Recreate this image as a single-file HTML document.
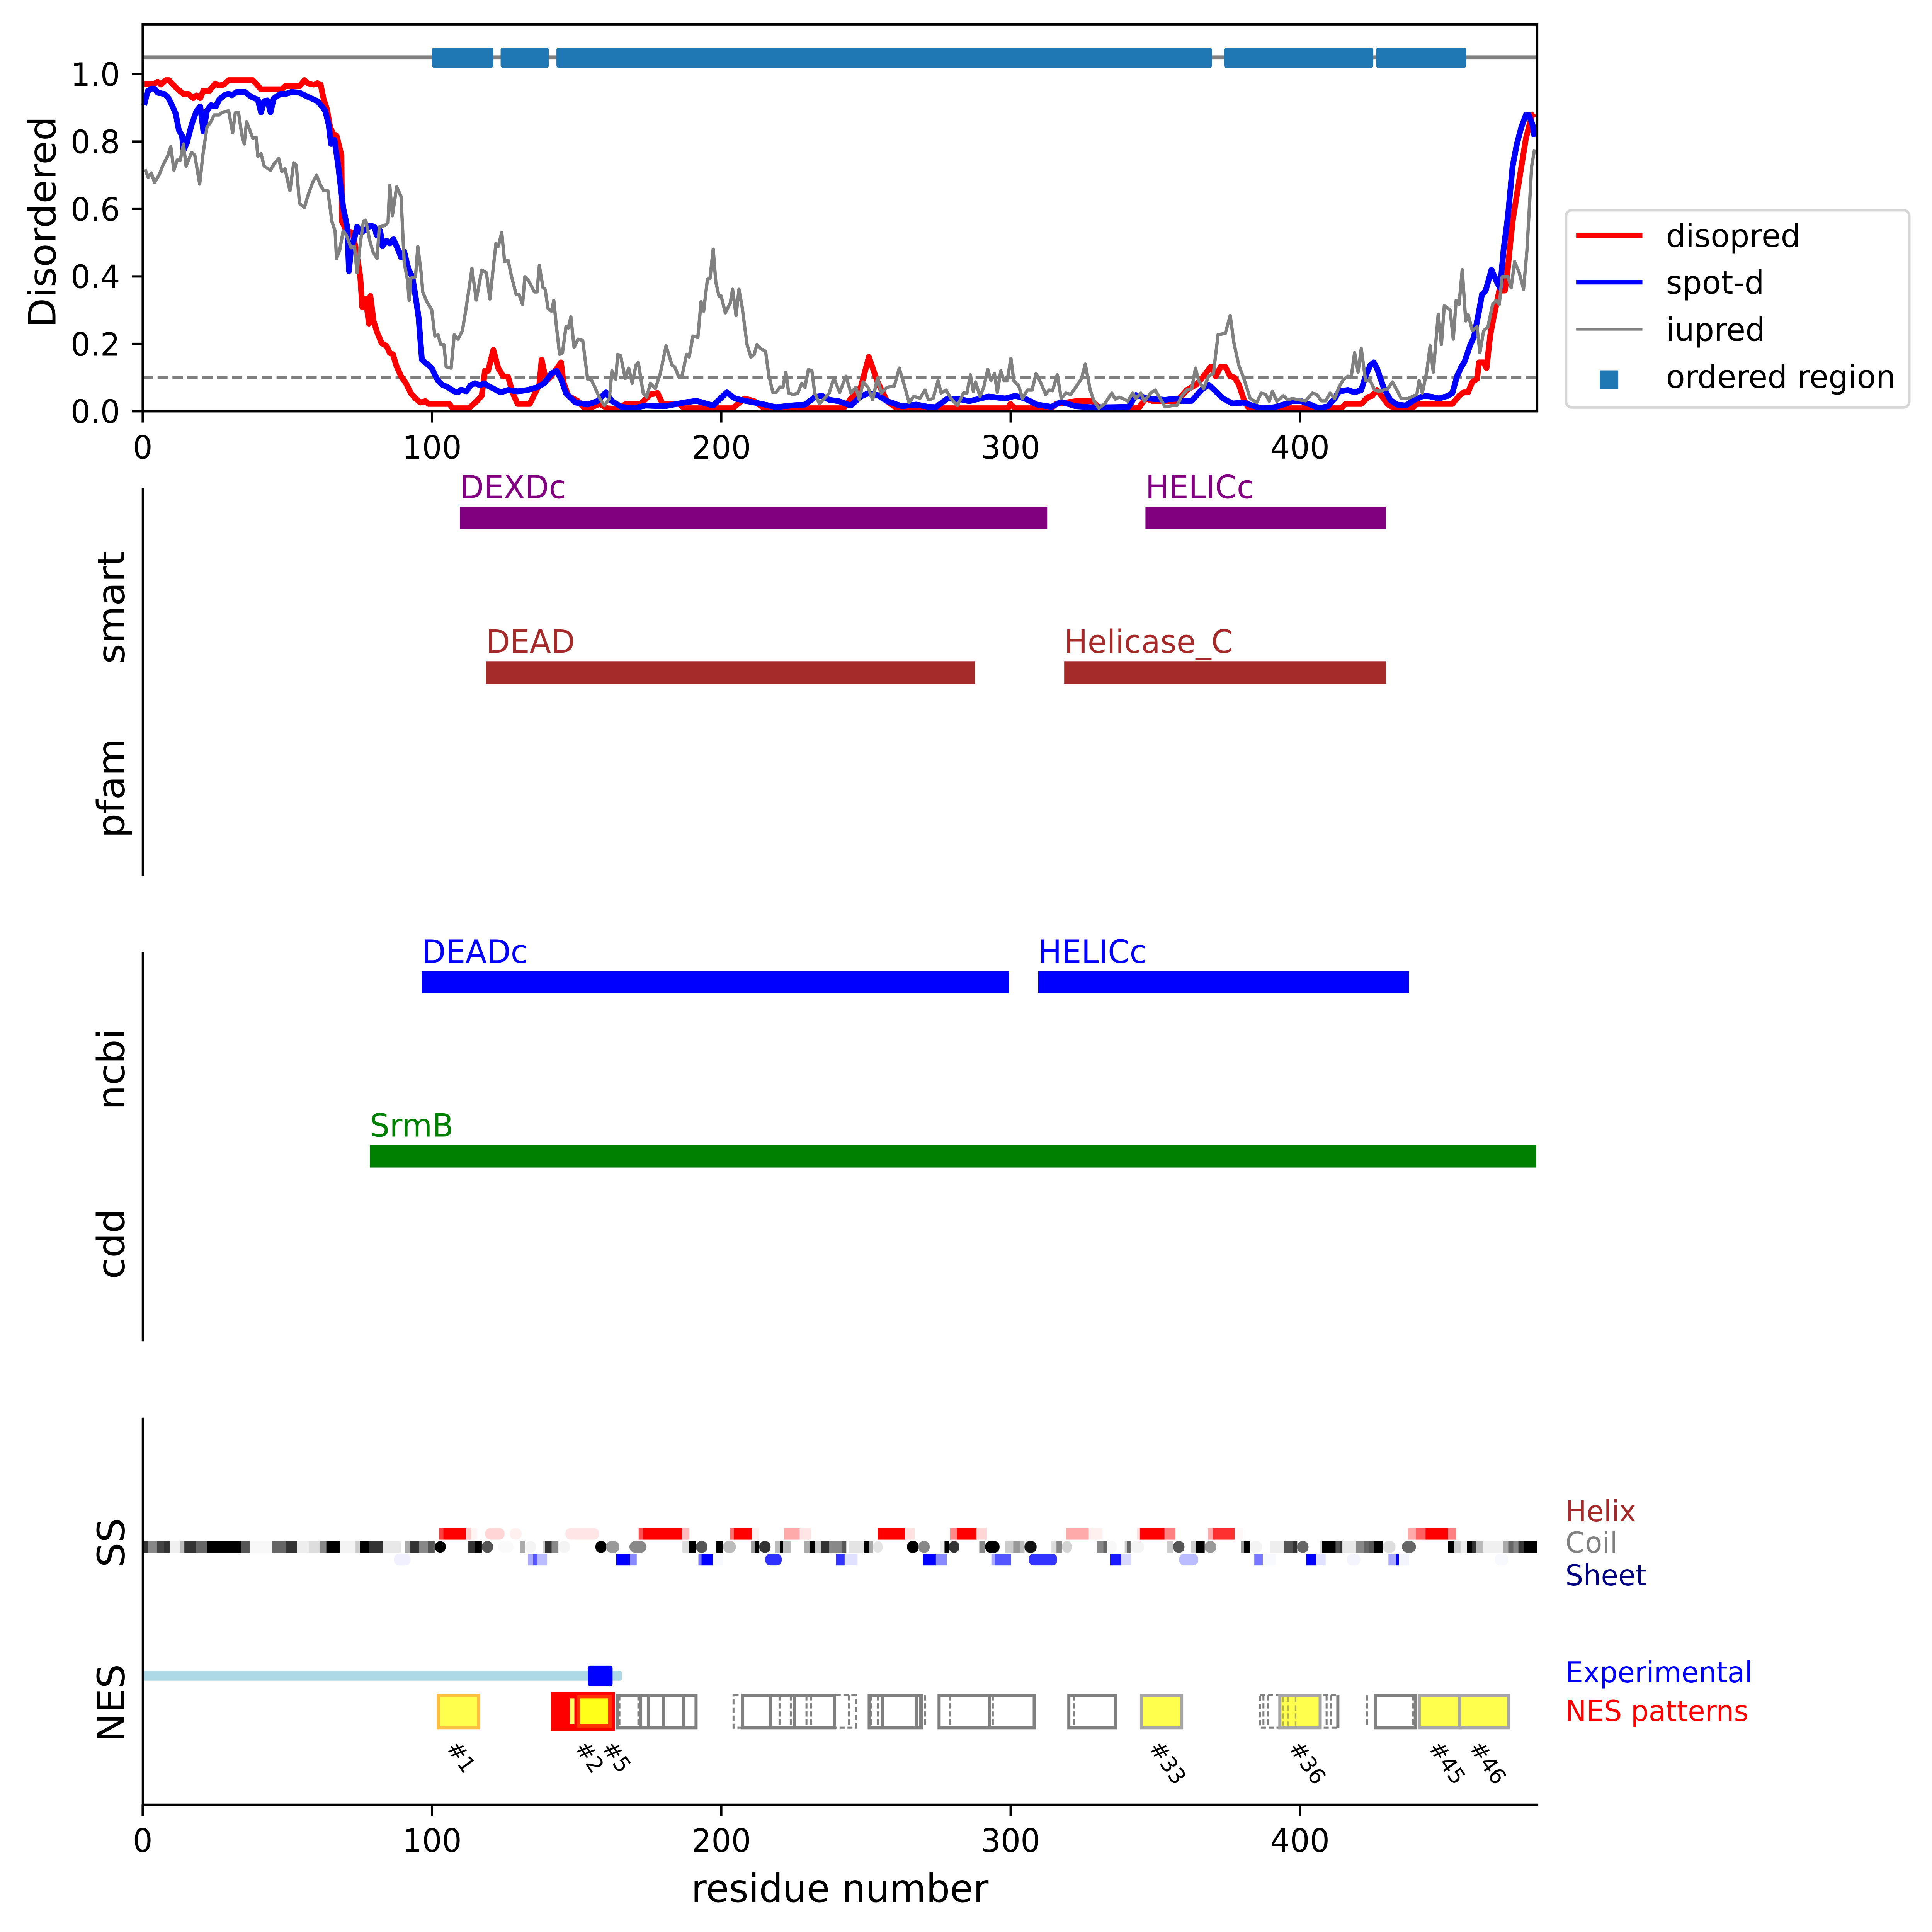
<!DOCTYPE html>
<html><head><meta charset="utf-8"><style>
html,body{margin:0;padding:0;background:#fff;width:100%;height:100%;overflow:hidden;}
svg{display:block;width:100vw;height:100vh;}
text{font-family:"DejaVu Sans","Liberation Sans",sans-serif;}
</style></head><body>
<svg xmlns="http://www.w3.org/2000/svg" viewBox="0 0 6885 6682" preserveAspectRatio="none">
<rect x="0" y="0" width="6885" height="6682" fill="#fff"/>

<!-- ============ PANEL 1 ============ -->
<line x1="508.5" y1="198.1" x2="5478" y2="198.1" stroke="#808080" stroke-width="13"/>
<g fill="#1f77b4">
<rect x="1539.5" y="164.5" width="218.5" height="70" rx="8"/>
<rect x="1784" y="164.5" width="172" height="70" rx="8"/>
<rect x="1983" y="164.5" width="2336" height="70" rx="8"/>
<rect x="4362" y="164.5" width="532" height="70" rx="8"/>
<rect x="4904" y="164.5" width="321" height="70" rx="8"/>
</g>
<line x1="508.5" y1="1305.9" x2="5478" y2="1305.9" stroke="#808080" stroke-width="10" stroke-dasharray="37 16"/>

<g transform="translate(508.5 1422.5) scale(10.31 -1166.1)" fill="none" stroke-linejoin="round">
<polyline vector-effect="non-scaling-stroke" stroke="#ff0000" stroke-width="15" points="0.5,0.971 3.9,0.971 5.2,0.977 6.3,0.969 8,0.982 9.1,0.982 11.4,0.961 13,0.949 14.1,0.941 15.8,0.941 17.5,0.929 18.6,0.937 19.9,0.929 21,0.951 23.1,0.951 25.1,0.972 26.4,0.966 28.1,0.969 29.7,0.982 38.1,0.982 40.9,0.955 48.1,0.955 49.2,0.964 54.2,0.964 55.9,0.982 57,0.973 59.2,0.969 60.4,0.973 61.5,0.969 62.6,0.924 63.7,0.896 64.8,0.842 65.9,0.822 67,0.818 68.7,0.760 68.9,0.563 70.4,0.535 72.6,0.530 74.3,0.449 75.2,0.399 75.9,0.309 77.1,0.334 78.2,0.260 78.7,0.342 79.8,0.268 81,0.235 82.6,0.202 84.3,0.194 85.4,0.173 86.5,0.169 87.6,0.137 89.3,0.104 91,0.083 92.7,0.054 94.3,0.038 96,0.026 97.7,0.030 98.8,0.022 106,0.022 107.1,0.009 112.7,0.009 115.5,0.030 117.2,0.046 118.3,0.120 119.4,0.120 121.2,0.182 122.9,0.128 124.6,0.104 126.3,0.102 127.9,0.054 129.6,0.022 133.8,0.022 135.4,0.050 137.1,0.079 137.9,0.153 139.1,0.104 140.4,0.096 142.9,0.124 144.6,0.145 145.4,0.087 147.1,0.046 150.5,0.030 153,0.007 155.5,0.013 158,0.022 160.5,0.009 163.8,0.007 167.2,0.022 172.2,0.022 175.5,0.050 178,0.054 179.7,0.022 185.5,0.022 187.2,0.009 203.9,0.009 208.1,0.038 211.4,0.030 214.8,0.009 242.3,0.009 244.8,0.038 248.2,0.071 251,0.161 254,0.087 257.3,0.030 260.7,0.009 299.1,0.009 299.9,0.022 301.6,0.009 314.1,0.009 315.8,0.022 322.5,0.030 328.3,0.030 330.8,0.009 344.2,0.009 346.7,0.038 349.2,0.030 357.5,0.030 360.9,0.063 364.2,0.079 366.7,0.104 369.2,0.132 370.9,0.104 372.6,0.132 374.2,0.132 375.9,0.104 377.4,0.100 378.9,0.079 380.5,0.038 382,0.013 383.5,0.009 414.3,0.009 415.8,0.022 421.2,0.022 423.5,0.042 425,0.046 426.6,0.063 428.9,0.038 430.4,0.020 432.7,0.009 438.9,0.009 440.4,0.022 452.7,0.022 455,0.046 456.6,0.056 458.1,0.056 459.6,0.087 461.2,0.096 461.9,0.145 463.5,0.145 464.5,0.128 465.8,0.227 467.3,0.293 468.9,0.358 470.8,0.358 471.5,0.395 473.5,0.563 475.8,0.686 478.1,0.809 480.1,0.875 481.1,0.883"/>
<polyline vector-effect="non-scaling-stroke" stroke="#0000ff" stroke-width="15" points="0.5,0.908 1.7,0.949 3,0.957 4.1,0.957 5.2,0.945 7.5,0.941 8.6,0.933 9.7,0.916 11.4,0.883 12.5,0.834 13.6,0.818 14.1,0.773 15.3,0.797 16.9,0.850 18.6,0.891 19.9,0.904 21,0.830 22.2,0.891 23.6,0.908 25.3,0.904 26.4,0.924 28.1,0.937 29.7,0.942 30.8,0.937 32.5,0.947 35.3,0.947 37.5,0.933 39.8,0.924 40.9,0.887 42,0.920 43.1,0.922 44.2,0.887 45.3,0.928 47.6,0.941 49.8,0.942 51.4,0.947 54.2,0.945 57,0.933 60.4,0.920 62,0.904 63.1,0.891 64.3,0.850 65.1,0.793 66.3,0.805 67.6,0.727 69.3,0.604 70.7,0.547 71.3,0.416 72,0.481 73.2,0.514 74.1,0.547 75.4,0.530 77.1,0.539 78.7,0.551 80.1,0.547 80.9,0.522 82.1,0.535 82.9,0.490 84.3,0.506 85.4,0.498 86.7,0.510 88.2,0.481 89.3,0.457 90.4,0.473 91.9,0.420 93.2,0.399 94.3,0.342 95.4,0.276 96.5,0.153 98.2,0.141 99.9,0.128 101,0.108 102.1,0.091 103.5,0.079 105.5,0.071 107.7,0.059 109,0.056 110.1,0.064 111.9,0.059 113.3,0.077 114.9,0.083 116.6,0.077 118.1,0.083 119.4,0.075 120.4,0.071 123.7,0.056 126.3,0.063 129.6,0.059 133,0.063 136.3,0.071 138.8,0.083 141.3,0.112 143,0.120 144.6,0.096 146.3,0.054 149.6,0.026 153.8,0.020 157.1,0.030 160.1,0.056 162.2,0.030 165.5,0.013 169.7,0.009 173.8,0.017 180.5,0.015 187.2,0.026 191.4,0.031 197.2,0.017 199.7,0.038 201.9,0.056 204.7,0.038 208.9,0.030 213.9,0.022 218.9,0.012 224,0.017 229,0.020 232.3,0.042 234.8,0.046 237.3,0.034 240.6,0.030 244.8,0.017 248.2,0.044 250.7,0.053 254,0.048 257.3,0.030 262.4,0.015 267.4,0.020 271.6,0.013 274.1,0.012 278.2,0.038 282.4,0.036 285.7,0.030 292.4,0.044 298.2,0.038 301.6,0.046 304.9,0.038 309.1,0.020 314.1,0.013 317.5,0.028 322.5,0.015 327.5,0.012 334.2,0.012 340.8,0.013 343.3,0.048 347.5,0.038 353.4,0.034 357.5,0.038 359.2,0.030 362.6,0.031 365.9,0.063 368.4,0.079 370.9,0.059 373.4,0.038 376.7,0.023 380.5,0.026 383.5,0.017 386.6,0.009 391.2,0.012 395.1,0.022 397.4,0.031 400.5,0.030 403.5,0.020 406.6,0.009 409.7,0.015 412,0.038 413.5,0.059 416.6,0.063 418.9,0.056 421.2,0.063 422.7,0.104 424.3,0.136 425.5,0.145 426.6,0.128 428.9,0.071 431.2,0.034 433.5,0.020 436.6,0.017 439.6,0.034 442.7,0.046 445,0.044 448.1,0.038 451.2,0.046 452.7,0.054 454.3,0.104 455.8,0.132 457,0.149 458.9,0.198 460.1,0.219 461.9,0.297 462.9,0.346 464.2,0.358 466.2,0.420 468.1,0.383 469.2,0.366 470.4,0.481 471.9,0.579 473.5,0.727 475,0.793 476.5,0.842 478.1,0.879 479.1,0.879 480.4,0.850 481.1,0.814"/>
<polyline vector-effect="non-scaling-stroke" stroke="#808080" stroke-width="8.5" points="0.8,0.718 1.9,0.694 3,0.707 4.1,0.678 5.8,0.703 6.9,0.728 8.6,0.756 9.7,0.785 10.8,0.715 11.9,0.745 13,0.745 14.1,0.793 15,0.727 16.9,0.768 18,0.760 19.7,0.674 20.8,0.760 22.2,0.842 23.6,0.859 24.7,0.879 26.4,0.879 27.5,0.887 29.7,0.891 31.1,0.826 32,0.885 33.1,0.887 34.3,0.818 35.1,0.793 35.9,0.859 37,0.834 38.1,0.809 39.2,0.813 39.8,0.756 40.9,0.764 42,0.727 44.2,0.715 45.3,0.732 47,0.750 48.1,0.711 49.2,0.719 50.9,0.654 52.2,0.737 53.1,0.729 54.2,0.617 55.9,0.604 57,0.637 58.7,0.678 60.1,0.700 61.5,0.670 62.6,0.654 64,0.654 65.4,0.563 66.5,0.535 67,0.453 68.1,0.478 69.3,0.535 70.4,0.522 72,0.485 73.2,0.489 74.1,0.411 75.2,0.498 76.3,0.563 77.1,0.567 78.5,0.506 79.6,0.473 81,0.453 81.8,0.547 83.7,0.551 84.8,0.559 85.4,0.670 86.3,0.580 87.8,0.666 89.3,0.637 90.4,0.440 91.5,0.391 92.1,0.329 92.7,0.395 94.3,0.399 95.1,0.489 96.3,0.407 96.8,0.354 98.2,0.325 99.9,0.301 101,0.223 102.1,0.227 103,0.198 104.1,0.198 104.9,0.132 106.6,0.128 107.7,0.227 109,0.214 110.5,0.239 111.6,0.296 112.7,0.358 113.8,0.424 115.3,0.330 117.2,0.419 118.8,0.411 120,0.333 122.1,0.498 122.9,0.489 124.1,0.530 125.1,0.444 126.3,0.448 127.4,0.403 129.1,0.346 130.1,0.346 131.3,0.317 132.1,0.399 133.4,0.387 135.4,0.354 136.3,0.354 137.1,0.432 138.4,0.366 139.1,0.362 140.1,0.305 141.3,0.297 142.1,0.329 142.9,0.260 144.1,0.169 145.1,0.173 146.3,0.251 147.1,0.247 148,0.280 149.1,0.190 150.5,0.214 152.1,0.210 153.8,0.095 155,0.095 156.3,0.071 158,0.038 159.6,0.017 161.3,0.038 162.2,0.120 163.5,0.095 164.2,0.169 165.2,0.165 166.8,0.097 168,0.128 169.2,0.083 170.5,0.136 171.3,0.145 173,0.054 174.2,0.042 175.5,0.083 177.2,0.067 178.9,0.112 180.9,0.194 183,0.136 183.9,0.132 185.2,0.104 186.4,0.104 188,0.169 188.9,0.161 190.2,0.223 191.9,0.219 193,0.325 193.9,0.297 195.2,0.391 196.1,0.395 197.2,0.481 198.1,0.383 199.2,0.342 199.9,0.343 201.4,0.292 203.1,0.321 203.9,0.362 205.1,0.284 206.1,0.362 207.2,0.309 208.9,0.198 210.2,0.161 211.4,0.169 212.3,0.198 213.6,0.186 215.3,0.178 216.4,0.108 217.8,0.056 218.9,0.056 220.3,0.072 221.3,0.071 222.3,0.116 223.3,0.054 224.8,0.050 226.4,0.053 227.8,0.083 228.9,0.071 230.1,0.124 231.3,0.120 232.3,0.054 233.9,0.022 235.6,0.038 237.3,0.054 238.9,0.099 240.9,0.056 243.1,0.104 244.8,0.054 246.5,0.071 247.7,0.034 249,0.087 250.7,0.071 252.3,0.034 254,0.099 255.3,0.054 257.3,0.071 259.8,0.075 261.5,0.128 263.2,0.079 264.9,0.026 266.5,0.044 268.7,0.039 270.4,0.063 271.6,0.034 273.2,0.038 274.9,0.091 276,0.054 277.7,0.063 279.4,0.038 281.6,0.017 283.7,0.054 284.9,0.054 286.1,0.108 287.1,0.059 287.9,0.087 289.4,0.044 290.7,0.071 292.1,0.124 293.2,0.091 294.4,0.112 295.4,0.056 296.6,0.120 297.7,0.091 298.8,0.091 300.1,0.157 301.1,0.091 302.8,0.075 304.1,0.038 305.8,0.063 307.4,0.063 308.8,0.112 310.5,0.083 312.1,0.050 313.3,0.063 314.5,0.061 316.1,0.108 317.5,0.038 319.1,0.054 320.8,0.050 322.8,0.075 324.5,0.097 325.8,0.140 327.5,0.063 328.8,0.031 330.5,0.009 332.5,0.022 335,0.054 336.2,0.036 337.5,0.042 338.8,0.038 340.5,0.030 342.2,0.054 343.3,0.038 345,0.054 346.2,0.030 348.4,0.054 350,0.063 351.7,0.038 353.4,0.013 355.9,0.017 357.5,0.017 359.2,0.046 360.9,0.063 362.6,0.067 363.9,0.128 365,0.091 366.7,0.067 368.4,0.104 370.1,0.112 371.7,0.227 374.2,0.231 375.9,0.284 377.2,0.202 378.9,0.136 380.5,0.100 382.8,0.038 385.1,0.026 386.6,0.054 388.2,0.050 389.4,0.030 390.5,0.059 392,0.030 394.3,0.046 395.8,0.034 397.4,0.038 399.7,0.034 402,0.031 404.3,0.054 405.8,0.050 407.4,0.031 408.9,0.031 410.4,0.054 412,0.038 413.5,0.071 415.1,0.095 416.6,0.104 417.7,0.100 418.9,0.174 420.1,0.116 421.2,0.186 422.7,0.091 424.3,0.091 425.8,0.063 427.4,0.059 428.9,0.063 430.4,0.067 432,0.087 433.5,0.063 435,0.038 437.4,0.038 440.4,0.050 441.2,0.091 442.3,0.054 443.8,0.116 445,0.194 446.1,0.116 447.8,0.288 448.9,0.198 449.9,0.313 451.9,0.301 453,0.214 454,0.329 455,0.317 456.1,0.420 457.3,0.268 458.1,0.288 459.6,0.239 461.2,0.251 462.2,0.174 463.5,0.239 465,0.251 466.6,0.317 467.8,0.329 468.9,0.317 469.9,0.399 471.9,0.399 473,0.366 474.2,0.444 475.8,0.411 477.3,0.362 478.5,0.481 480.1,0.727 481.1,0.777"/>
</g>

<!-- axes box -->
<rect x="508.5" y="84" width="4969.5" height="1338.5" fill="none" stroke="#000" stroke-width="8"/>
<g stroke="#000" stroke-width="8">
<line x1="469.6" y1="1422.5" x2="508.5" y2="1422.5"/>
<line x1="469.6" y1="1189.3" x2="508.5" y2="1189.3"/>
<line x1="469.6" y1="956.1" x2="508.5" y2="956.1"/>
<line x1="469.6" y1="722.8" x2="508.5" y2="722.8"/>
<line x1="469.6" y1="489.6" x2="508.5" y2="489.6"/>
<line x1="469.6" y1="256.4" x2="508.5" y2="256.4"/>
<line x1="508.5" y1="1422.5" x2="508.5" y2="1461.4"/>
<line x1="1539.5" y1="1422.5" x2="1539.5" y2="1461.4"/>
<line x1="2570.5" y1="1422.5" x2="2570.5" y2="1461.4"/>
<line x1="3601.5" y1="1422.5" x2="3601.5" y2="1461.4"/>
<line x1="4632.5" y1="1422.5" x2="4632.5" y2="1461.4"/>
</g>
<g font-size="111" fill="#000" text-anchor="end">
<text x="428" y="1463">0.0</text>
<text x="428" y="1230">0.2</text>
<text x="428" y="996">0.4</text>
<text x="428" y="763">0.6</text>
<text x="428" y="530">0.8</text>
<text x="428" y="297">1.0</text>
</g>
<g font-size="111" fill="#000" text-anchor="middle">
<text x="508.5" y="1586">0</text>
<text x="1539.5" y="1586">100</text>
<text x="2570.5" y="1586">200</text>
<text x="3601.5" y="1586">300</text>
<text x="4632.5" y="1586">400</text>
</g>
<text transform="translate(197.5 768) rotate(-90)" font-size="134" text-anchor="middle">Disordered</text>

<!-- legend -->
<rect x="5581" y="727" width="1223" height="682" rx="20" fill="#fff" stroke="#d6d6d6" stroke-width="9"/>
<line x1="5617" y1="814" x2="5853" y2="814" stroke="#ff0000" stroke-width="16"/>
<line x1="5617" y1="976" x2="5853" y2="976" stroke="#0000ff" stroke-width="16"/>
<line x1="5617" y1="1139" x2="5853" y2="1139" stroke="#808080" stroke-width="9"/>
<rect x="5701" y="1281" width="66" height="66" fill="#1f77b4"/>
<g font-size="111" fill="#000">
<text x="5937" y="854">disopred</text>
<text x="5937" y="1016">spot-d</text>
<text x="5937" y="1179">iupred</text>
<text x="5937" y="1342">ordered region</text>
</g>

<!-- ============ PANEL 2 ============ -->
<line x1="509" y1="1688" x2="509" y2="3031" stroke="#000" stroke-width="8"/>
<rect x="1639" y="1752" width="2093" height="76.6" fill="#800080"/>
<rect x="4082" y="1752" width="857" height="76.6" fill="#800080"/>
<rect x="1732" y="2287" width="1743" height="77.5" fill="#a52a2a"/>
<rect x="3792.5" y="2287" width="1146.5" height="77.5" fill="#a52a2a"/>
<g font-size="111">
<text x="1639" y="1723.5" fill="#800080">DEXDc</text>
<text x="4082" y="1723.5" fill="#800080">HELICc</text>
<text x="1732" y="2258" fill="#a52a2a">DEAD</text>
<text x="3792.5" y="2258" fill="#a52a2a">Helicase_C</text>
</g>
<g font-size="134" text-anchor="middle">
<text transform="translate(443 2101) rotate(-90)">smart</text>
<text transform="translate(443 2726) rotate(-90)">pfam</text>
</g>

<!-- ============ PANEL 3 ============ -->
<line x1="509" y1="3292" x2="509" y2="4639" stroke="#000" stroke-width="8"/>
<rect x="1503" y="3359" width="2093" height="76.7" fill="#0000ff"/>
<rect x="3700" y="3359" width="1321" height="76.7" fill="#0000ff"/>
<rect x="1318" y="3961" width="4157" height="77" fill="#008000"/>
<g font-size="111">
<text x="1503" y="3330" fill="#0000ff">DEADc</text>
<text x="3700" y="3330" fill="#0000ff">HELICc</text>
<text x="1318" y="3931" fill="#008000">SrmB</text>
</g>
<g font-size="134" text-anchor="middle">
<text transform="translate(443 3698) rotate(-90)">ncbi</text>
<text transform="translate(443 4302) rotate(-90)">cdd</text>
</g>

<!-- ============ PANEL 4 ============ -->
<g transform="translate(0 5330)">
<rect x="512" width="16" height="40" fill="#333"/><rect x="528" width="32" height="40" fill="#888"/><rect x="560" width="24" height="40" fill="#444"/><rect x="584" width="21" height="40" fill="#333"/><rect x="605" width="36" height="40" fill="#f0f0f0"/><rect x="641" width="16" height="40" fill="#bbb"/><rect x="657" width="40" height="40" fill="#333"/><rect x="697" width="40" height="40" fill="#666"/><rect x="737" width="121" height="40" fill="#000"/><rect x="858" width="32" height="40" fill="#555"/><rect x="890" width="80" height="40" fill="#f8f8f8"/><rect x="970" width="48" height="40" fill="#666"/><rect x="1018" width="40" height="40" fill="#333"/><rect x="1058" width="42" height="40" fill="#eee"/><rect x="1100" width="39" height="40" fill="#ddd"/><rect x="1139" width="24" height="40" fill="#888"/><rect x="1163" width="48" height="40" fill="#000"/><rect x="1211" width="56" height="40" fill="#f4f4f4"/><rect x="1267" width="16" height="40" fill="#ccc"/><rect x="1283" width="33" height="40" fill="#000"/><rect x="1316" width="48" height="40" fill="#333"/><rect x="1364" width="64" height="40" fill="#e8e8e8"/>
<rect x="1444" width="18" height="40" fill="#aaa"/><rect x="1462" width="31" height="40" fill="#333"/><rect x="1493" width="32" height="40" fill="#888"/><rect x="1525" width="24" height="40" fill="#555"/><rect x="1549" width="40" height="40" rx="20" fill="#000"/>
<rect x="1669" width="24" height="40" fill="#333"/><rect x="1693" width="24" height="40" fill="#000"/><rect x="1717" width="40" height="40" rx="18" fill="#555"/>
<rect x="1774" width="56" height="40" rx="20" fill="#fafafa"/>
<rect x="1854" width="16" height="40" fill="#aaa"/><rect x="1870" width="40" height="40" rx="18" fill="#f4f4f4"/>
<rect x="1934" width="8" height="40" fill="#ccc"/><rect x="1942" width="24" height="40" fill="#333"/><rect x="1966" width="24" height="40" fill="#888"/><rect x="1990" width="41" height="40" rx="18" fill="#f4f4f4"/>
<rect x="2122" width="40" height="40" rx="18" fill="#000"/><rect x="2160" width="47" height="40" rx="18" fill="#999"/>
<rect x="2243" width="61" height="40" rx="20" fill="#888"/>
<rect x="2432" width="24" height="40" fill="#ddd"/><rect x="2456" width="24" height="40" fill="#000"/><rect x="2480" width="41" height="40" rx="18" fill="#555"/>
<rect x="2553" width="24" height="40" fill="#000"/><rect x="2577" width="45" height="40" rx="18" fill="#bbb"/>
<rect x="2677" width="13" height="40" fill="#999"/><rect x="2690" width="16" height="40" fill="#000"/><rect x="2706" width="40" height="40" rx="18" fill="#333"/>
<rect x="2762" width="18" height="40" fill="#bbb"/><rect x="2780" width="10" height="40" fill="#000"/><rect x="2790" width="28" height="40" fill="#bbb"/>
<rect x="2866" width="19" height="40" fill="#aaa"/><rect x="2885" width="20" height="40" fill="#000"/><rect x="2905" width="20" height="40" fill="#ccc"/><rect x="2925" width="30" height="40" fill="#333"/><rect x="2955" width="45" height="40" fill="#888"/><rect x="3000" width="16" height="40" fill="#555"/>
<rect x="3024" width="56" height="40" fill="#e4e4e4"/><rect x="3080" width="16" height="40" fill="#000"/><rect x="3096" width="16" height="40" fill="#aaa"/><rect x="3112" width="33" height="40" rx="16" fill="#e4e4e4"/>
<rect x="3233" width="40" height="40" rx="16" fill="#000"/><rect x="3273" width="40" height="40" rx="18" fill="#888"/>
<rect x="3350" width="16" height="40" fill="#eee"/><rect x="3366" width="16" height="40" fill="#000"/><rect x="3382" width="36" height="40" rx="16" fill="#333"/>
<rect x="3490" width="21" height="40" fill="#888"/><rect x="3511" width="51" height="40" rx="18" fill="#000"/>
<rect x="3582" width="29" height="40" fill="#ccc"/><rect x="3611" width="24" height="40" fill="#999"/><rect x="3635" width="16" height="40" fill="#bbb"/><rect x="3651" width="43" height="40" rx="18" fill="#111"/>
<rect x="3747" width="18" height="40" fill="#ddd"/><rect x="3765" width="20" height="40" fill="#888"/><rect x="3785" width="35" height="40" rx="16" fill="#d4d4d4"/>
<rect x="3908" width="24" height="40" fill="#888"/><rect x="3932" width="13" height="40" fill="#666"/><rect x="3945" width="35" height="40" rx="16" fill="#f8f8f8"/>
<rect x="4008" width="8" height="40" fill="#ccc"/><rect x="4016" width="13" height="40" fill="#666"/><rect x="4029" width="48" height="40" rx="18" fill="#f4f4f4"/>
<rect x="4160" width="21" height="40" fill="#ccc"/><rect x="4181" width="40" height="40" rx="18" fill="#555"/>
<rect x="4245" width="16" height="40" fill="#ccc"/><rect x="4261" width="32" height="40" fill="#000"/><rect x="4293" width="41" height="40" rx="18" fill="#999"/>
<rect x="4422" width="11" height="40" fill="#999"/><rect x="4433" width="21" height="40" fill="#000"/><rect x="4454" width="44" height="40" rx="18" fill="#f4f4f4"/>
<rect x="4527" width="48" height="40" fill="#eee"/><rect x="4575" width="32" height="40" fill="#555"/><rect x="4607" width="16" height="40" fill="#333"/><rect x="4623" width="40" height="40" rx="18" fill="#666"/>
<rect x="4703" width="8" height="40" fill="#ddd"/><rect x="4711" width="49" height="40" fill="#000"/><rect x="4760" width="15" height="40" fill="#555"/><rect x="4775" width="9" height="40" fill="#333"/><rect x="4784" width="48" height="40" fill="#e8e8e8"/><rect x="4832" width="28" height="40" fill="#888"/><rect x="4860" width="20" height="40" fill="#666"/><rect x="4880" width="16" height="40" fill="#555"/><rect x="4896" width="32" height="40" fill="#000"/><rect x="4928" width="45" height="40" rx="18" fill="#ddd"/>
<rect x="4996" width="50" height="40" rx="20" fill="#666"/>
<rect x="5161" width="22" height="40" fill="#000"/><rect x="5183" width="22" height="40" fill="#ccc"/><rect x="5205" width="23" height="40" fill="#eee"/><rect x="5228" width="18" height="40" fill="#000"/><rect x="5246" width="13" height="40" fill="#333"/><rect x="5259" width="27" height="40" fill="#bbb"/><rect x="5286" width="71" height="40" fill="#f0f0f0"/><rect x="5357" width="18" height="40" fill="#aaa"/><rect x="5375" width="18" height="40" fill="#666"/><rect x="5393" width="18" height="40" fill="#888"/><rect x="5411" width="18" height="40" fill="#333"/><rect x="5429" width="49" height="40" fill="#000"/>
</g>
<g transform="translate(0 5285)">
<rect x="1565" width="15" height="40" fill="#ff4040"/><rect x="1580" width="80" height="40" fill="#ff0000"/><rect x="1660" width="20" height="40" fill="#ffcccc"/><rect x="1680" width="20" height="40" fill="#fff4f4"/>
<rect x="1729" width="69" height="40" rx="18" fill="#ffd5d5"/>
<rect x="1817" width="42" height="40" rx="18" fill="#fff0f0"/>
<rect x="2015" width="120" height="40" rx="18" fill="#ffe5e5"/>
<rect x="2276" width="16" height="40" fill="#ff5050"/><rect x="2292" width="138" height="40" fill="#ff0000"/><rect x="2430" width="27" height="40" fill="#ffbbbb"/>
<rect x="2601" width="14" height="40" fill="#ff7070"/><rect x="2615" width="65" height="40" fill="#ff0000"/><rect x="2680" width="25" height="40" fill="#fff0f0"/>
<rect x="2794" width="56" height="40" fill="#ffaaaa"/><rect x="2850" width="40" height="40" fill="#ffe5e5"/>
<rect x="3128" width="97" height="40" fill="#ff0000"/><rect x="3225" width="35" height="40" fill="#ffe0e0"/>
<rect x="3386" width="24" height="40" fill="#ff8888"/><rect x="3410" width="70" height="40" fill="#ff0000"/><rect x="3480" width="37" height="40" fill="#ffd5d5"/>
<rect x="3800" width="80" height="40" fill="#ffaaaa"/><rect x="3880" width="49" height="40" fill="#fff0f0"/>
<rect x="4052" width="10" height="40" fill="#ffe0e0"/><rect x="4062" width="88" height="40" fill="#ff0000"/><rect x="4150" width="39" height="40" fill="#ff8080"/>
<rect x="4305" width="17" height="40" fill="#ffaaaa"/><rect x="4322" width="78" height="40" fill="#ff3030"/><rect x="4400" width="30" height="40" fill="#fff8f8"/>
<rect x="5017" width="28" height="40" fill="#ffaaaa"/><rect x="5045" width="35" height="40" fill="#ff6060"/><rect x="5080" width="80" height="40" fill="#ff0000"/><rect x="5160" width="29" height="40" fill="#ff8080"/>
</g>
<g transform="translate(0 5374)">
<rect x="1404" width="59" height="40" rx="18" fill="#f0f0ff"/>
<rect x="1881" width="19" height="40" fill="#aaaaff"/><rect x="1900" width="15" height="40" fill="#5555ff"/><rect x="1915" width="35" height="40" fill="#bbbbff"/>
<rect x="2196" width="49" height="40" fill="#0000ff"/><rect x="2245" width="24" height="40" fill="#8888ff"/>
<rect x="2489" width="11" height="40" fill="#7777ff"/><rect x="2500" width="40" height="40" fill="#0000ff"/><rect x="2540" width="37" height="40" fill="#f8f8ff"/>
<rect x="2727" width="59" height="40" rx="18" fill="#3030ff"/>
<rect x="2979" width="31" height="40" fill="#3333ff"/><rect x="3010" width="46" height="40" fill="#e0e0ff"/>
<rect x="3289" width="46" height="40" fill="#0000ff"/><rect x="3335" width="39" height="40" fill="#8888ff"/>
<rect x="3533" width="12" height="40" fill="#aaaaff"/><rect x="3545" width="58" height="40" fill="#5555ff"/>
<rect x="3667" width="100" height="40" rx="16" fill="#3333ff"/>
<rect x="3956" width="39" height="40" fill="#1a1aff"/><rect x="3995" width="37" height="40" fill="#d8d8ff"/>
<rect x="4202" width="68" height="40" rx="18" fill="#bbbbff"/>
<rect x="4470" width="30" height="40" fill="#7777ff"/><rect x="4500" width="46" height="40" fill="#f8f8ff"/>
<rect x="4655" width="35" height="40" fill="#0000ff"/><rect x="4690" width="34" height="40" fill="#e0e0ff"/>
<rect x="4800" width="48" height="40" rx="18" fill="#f4f4ff"/>
<rect x="4948" width="27" height="40" fill="#aaaaff"/><rect x="4975" width="10" height="40" fill="#0000ff"/><rect x="4985" width="37" height="40" fill="#f4f4ff"/>
<rect x="5327" width="48" height="40" rx="18" fill="#f8f8ff"/>
</g>

<rect x="509" y="5779" width="1707" height="34" rx="6" fill="#add8e6"/>
<rect x="2095" y="5761" width="88" height="71" rx="8" fill="#0000ff"/>

<rect x="1562.5" y="5863.3" width="143" height="112" fill="#ffff4d" stroke="#ffbf40" stroke-width="11"/>
<rect x="1963.5" y="5851.7" width="228" height="134.3" fill="#ff0000"/>
<rect x="2056" y="5862.7" width="124" height="112.3" fill="#ff3300"/>
<rect x="2068" y="5874" width="99" height="89" fill="#ffff1a"/>
<rect x="2031" y="5874" width="16" height="89" fill="#ffff66"/>

<g fill="none" stroke="#808080" stroke-width="11">
<rect x="2201.5" y="5863.3" width="279" height="112"/>
<rect x="2646.5" y="5863.3" width="327" height="112"/>
<rect x="3097.5" y="5863.3" width="186" height="112"/>
<rect x="3346.5" y="5863.3" width="339" height="112"/>
<rect x="3809" y="5863.3" width="165.5" height="112"/>
<rect x="4901.5" y="5863.3" width="142" height="112"/>
</g>
<g stroke="#808080" stroke-width="11">
<line x1="2283" y1="5863" x2="2283" y2="5975"/><line x1="2312" y1="5863" x2="2312" y2="5975"/><line x1="2363.5" y1="5863" x2="2363.5" y2="5975"/><line x1="2437" y1="5863" x2="2437" y2="5975"/>
<line x1="2746" y1="5863" x2="2746" y2="5975"/><line x1="2831" y1="5863" x2="2831" y2="5975"/>
<line x1="3144.6" y1="5863" x2="3144.6" y2="5975"/><line x1="3265" y1="5863" x2="3265" y2="5975"/><line x1="3281" y1="5863" x2="3281" y2="5975"/>
<line x1="3525.5" y1="5863" x2="3525.5" y2="5975"/>
<line x1="4767.7" y1="5863" x2="4767.7" y2="5975"/>
</g>
<g fill="none" stroke="#808080" stroke-width="7" stroke-dasharray="18 10">
<rect x="2614" y="5863.3" width="436" height="112"/>
<rect x="4491" y="5863.3" width="276" height="112"/>
<line x1="2207.5" y1="5863" x2="2207.5" y2="5975"/><line x1="2275" y1="5863" x2="2275" y2="5975"/>
<line x1="2778" y1="5863" x2="2778" y2="5975"/><line x1="2818" y1="5863" x2="2818" y2="5975"/><line x1="2874" y1="5863" x2="2874" y2="5975"/><line x1="2890" y1="5863" x2="2890" y2="5975"/><line x1="3026" y1="5863" x2="3026" y2="5975"/>
<line x1="3104" y1="5863" x2="3104" y2="5975"/><line x1="3128.6" y1="5863" x2="3128.6" y2="5975"/><line x1="3297" y1="5863" x2="3297" y2="5975"/>
<line x1="3385.7" y1="5863" x2="3385.7" y2="5975"/><line x1="3538" y1="5863" x2="3538" y2="5975"/>
<line x1="3827.6" y1="5863" x2="3827.6" y2="5975"/>
<line x1="4502.5" y1="5863" x2="4502.5" y2="5975"/><line x1="4518.6" y1="5863" x2="4518.6" y2="5975"/><line x1="4727.5" y1="5863" x2="4727.5" y2="5975"/><line x1="4743.6" y1="5863" x2="4743.6" y2="5975"/>
<line x1="4872" y1="5863" x2="4872" y2="5975"/><line x1="5036" y1="5863" x2="5036" y2="5975"/>
</g>
<g fill="#ffff4d" stroke="#a6a6a6" stroke-width="11">
<rect x="4067.5" y="5863.3" width="143.5" height="112"/>
<rect x="4561" y="5863.3" width="143.5" height="112"/>
<rect x="5057.5" y="5863.3" width="147" height="112"/>
<rect x="5201.5" y="5863.3" width="175" height="112"/>
</g>
<g stroke="#b3b34d" stroke-width="6" stroke-dasharray="18 10">
<line x1="4573" y1="5870" x2="4573" y2="5968"/><line x1="4590" y1="5870" x2="4590" y2="5968"/><line x1="4617" y1="5870" x2="4617" y2="5968"/>
</g>

<g font-size="77" fill="#000">
<text transform="translate(1589 6045) rotate(55)">#1</text>
<text transform="translate(2047 6045) rotate(55)">#2</text>
<text transform="translate(2143 6045) rotate(55)">#5</text>
<text transform="translate(4093 6045) rotate(55)">#33</text>
<text transform="translate(4591 6045) rotate(55)">#36</text>
<text transform="translate(5089 6045) rotate(55)">#45</text>
<text transform="translate(5234 6045) rotate(55)">#46</text>
</g>

<line x1="509" y1="4903" x2="509" y2="6246" stroke="#000" stroke-width="8"/>
<line x1="505" y1="6242" x2="5482" y2="6242" stroke="#000" stroke-width="8"/>
<g stroke="#000" stroke-width="8">
<line x1="508.5" y1="6242" x2="508.5" y2="6281"/>
<line x1="1539.5" y1="6242" x2="1539.5" y2="6281"/>
<line x1="2570.5" y1="6242" x2="2570.5" y2="6281"/>
<line x1="3601.5" y1="6242" x2="3601.5" y2="6281"/>
<line x1="4632.5" y1="6242" x2="4632.5" y2="6281"/>
</g>
<g font-size="111" fill="#000" text-anchor="middle">
<text x="508.5" y="6405">0</text>
<text x="1539.5" y="6405">100</text>
<text x="2570.5" y="6405">200</text>
<text x="3601.5" y="6405">300</text>
<text x="4632.5" y="6405">400</text>
</g>
<text x="2993" y="6578" font-size="134" text-anchor="middle">residue number</text>
<g font-size="134" text-anchor="middle">
<text transform="translate(443 5335) rotate(-90)">SS</text>
<text transform="translate(443 5890) rotate(-90)">NES</text>
</g>

<g font-size="100">
<text x="5578.6" y="5261.4" fill="#a52a2a">Helix</text>
<text x="5578.6" y="5370" fill="#808080">Coil</text>
<text x="5578.6" y="5483.5" fill="#000080">Sheet</text>
<text x="5578.6" y="5818.5" fill="#0000ff">Experimental</text>
<text x="5578.6" y="5952.6" fill="#ff0000">NES patterns</text>
</g>
</svg>
</body></html>
